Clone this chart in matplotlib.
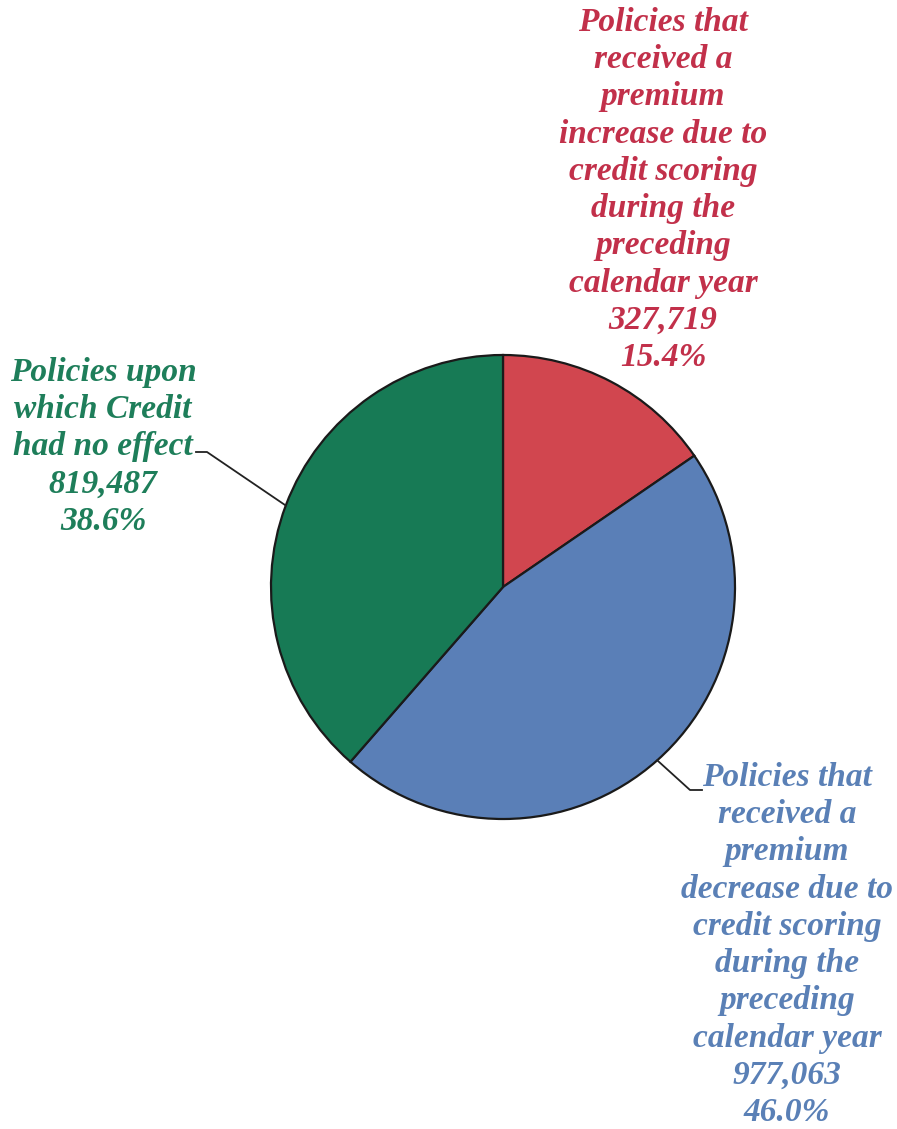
import numpy as np
import matplotlib
matplotlib.use("Agg")
import matplotlib.pyplot as plt
from matplotlib.lines import Line2D

# Data
categories = ["Increase", "Decrease", "No effect"]
counts = [327719, 977063, 819487]
percents = [15.4, 46.0, 38.6]
descriptions = [
    "Policies that\nreceived a\npremium\nincrease due to\ncredit scoring\nduring the\npreceding\ncalendar year",
    "Policies that\nreceived a\npremium\ndecrease due to\ncredit scoring\nduring the\npreceding\ncalendar year",
    "Policies upon\nwhich Credit\nhad no effect",
]
wedge_colors = ["#D1464F", "#5A7FB7", "#177A55"]
text_colors = ["#C2304A", "#5A80B6", "#1E7E5A"]

W, H = 897, 1129
fig = plt.figure(figsize=(W / 100, H / 100), dpi=100)
fig.patch.set_facecolor("white")

cx, cy, R = 503, 587, 232
half = 240
ax = fig.add_axes([(cx - half) / W, (H - cy - half) / H, 2 * half / W, 2 * half / H])
lim = half / R

wedges, _ = ax.pie(counts, colors=wedge_colors, startangle=90, counterclock=False,
                   radius=1.0, center=(0, 0), frame=True,
                   wedgeprops=dict(edgecolor="#1a1a1a", linewidth=1.6))
ax.set_xlim(-lim, lim)
ax.set_ylim(-lim, lim)
ax.set_aspect("equal")
ax.axis("off")

font = dict(family=["Liberation Serif", "DejaVu Serif"], weight="bold", style="italic",
            fontsize=24)

# label positions in pixel coords (x center, y center from top)
label_pos = [(663, 190), (787, 945), (103, 447)]
for i in range(3):
    txt = f"{descriptions[i]}\n{counts[i]:,}\n{percents[i]:.1f}%"
    x, y = label_pos[i]
    fig.text(x / W, 1 - y / H, txt, ha="center", va="center", color=text_colors[i],
             linespacing=1.26, **font)

# leader lines for blue and green
fig.canvas.draw()
def data_to_fig(px, py):
    disp = ax.transData.transform((px, py))
    return fig.transFigure.inverted().transform(disp)

leaders = {1: [(690, 790), (702, 790)], 2: [(207, 452), (196, 452)]}
for i, pts in leaders.items():
    w = wedges[i]
    mid = np.deg2rad((w.theta1 + w.theta2) / 2)
    p0 = data_to_fig(np.cos(mid), np.sin(mid))
    xs = [p0[0]] + [p[0] / W for p in pts]
    ys = [p0[1]] + [1 - p[1] / H for p in pts]
    fig.add_artist(Line2D(xs, ys, color="#222222", linewidth=1.3, transform=fig.transFigure))

fig.savefig("out.png", dpi=100, facecolor="white")
